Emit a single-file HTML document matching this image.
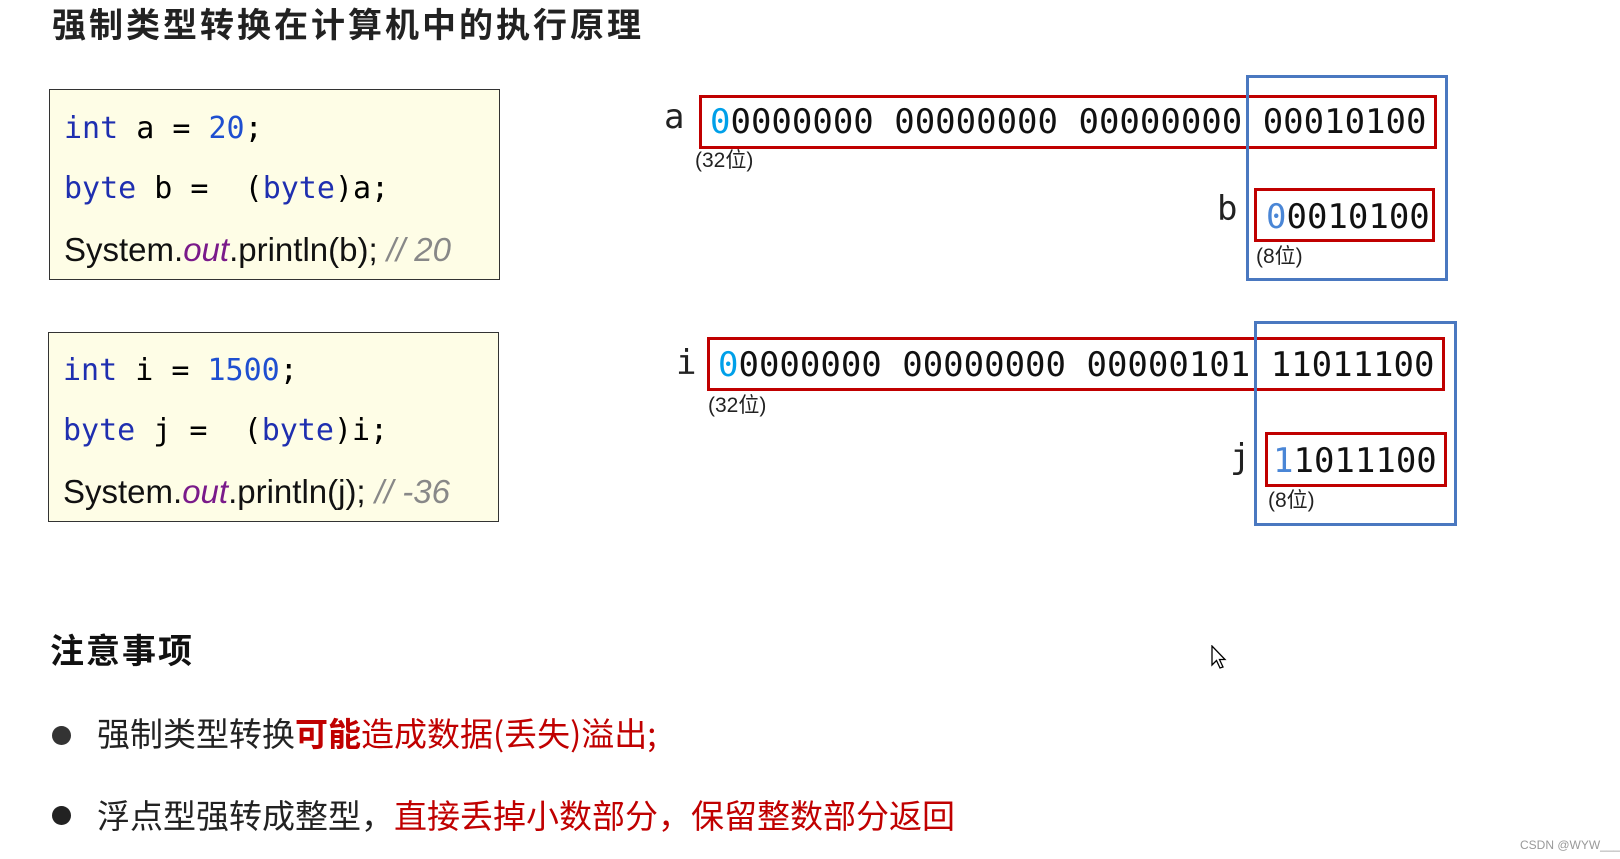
<!DOCTYPE html>
<html><head><meta charset="utf-8"><style>
body{margin:0;width:1620px;height:859px;background:#fff;position:relative;overflow:hidden;font-family:"Liberation Sans","Noto Sans CJK SC",sans-serif;}
.a{position:absolute;white-space:pre;line-height:1;}
.box{position:absolute;box-sizing:border-box;}
.code{position:absolute;background:#fefde6;border:1.5px solid #333;box-sizing:border-box;}
.mono{font-family:"DejaVu Sans Mono","Liberation Mono",monospace;}
.kw{color:#1f2fb0}.num{color:#1f4fd0}
.sys{font-family:"Liberation Sans Narrow","Liberation Sans",sans-serif;font-size:33px;color:#111;}
.bin{font-family:"DejaVu Sans Mono","Liberation Mono",monospace;font-size:34px;color:#111;}
.small{font-family:"Liberation Sans Narrow","Liberation Sans","Noto Sans CJK SC",sans-serif;font-size:21px;color:#222;}
.red{border:3px solid #c00000}
.blue{border:3px solid #4a78c0}
</style></head><body>
<div class="a" style="left:52px;top:6px;font-size:34px;font-weight:bold;letter-spacing:3px;color:#222;font-family:'Noto Sans CJK SC',sans-serif;">强制类型转换在计算机中的执行原理</div>

<div class="code" style="left:49px;top:89px;width:451px;height:191px;"></div>
<div class="a mono" style="left:64px;top:114px;font-size:30px;"><span class="kw">int</span> a = <span class="num">20</span>;</div>
<div class="a mono" style="left:64px;top:174px;font-size:30px;"><span class="kw">byte</span> b =  (<span class="kw">byte</span>)a;</div>
<div class="a sys" style="left:64px;top:233px;">System.<i style="color:#7a1a8a">out</i>.println(b); <i style="color:#888">// 20</i></div>

<div class="code" style="left:48px;top:332px;width:451px;height:190px;"></div>
<div class="a mono" style="left:63px;top:356px;font-size:30px;"><span class="kw">int</span> i = <span class="num">1500</span>;</div>
<div class="a mono" style="left:63px;top:416px;font-size:30px;"><span class="kw">byte</span> j =  (<span class="kw">byte</span>)i;</div>
<div class="a sys" style="left:63px;top:475px;">System.<i style="color:#7a1a8a">out</i>.println(j); <i style="color:#888">// -36</i></div>

<!-- a -->
<div class="a mono" style="left:664px;top:100px;font-size:34px;color:#222;">a</div>
<div class="box red" style="left:699px;top:95px;width:738px;height:54px;"></div>
<div class="box blue" style="left:1246px;top:75px;width:202px;height:206px;"></div>
<div class="a bin" style="left:710px;top:105px;"><span style="color:#00a0e9">0</span>0000000 00000000 00000000 00010100</div>
<div class="a small" style="left:695px;top:150px;">(32位)</div>
<div class="a mono" style="left:1217px;top:192px;font-size:34px;color:#222;">b</div>
<div class="box red" style="left:1254px;top:188px;width:181px;height:54px;"></div>
<div class="a bin" style="left:1266px;top:200px;"><span style="color:#4a86d6">0</span>0010100</div>
<div class="a small" style="left:1256px;top:246px;">(8位)</div>

<!-- i -->
<div class="a mono" style="left:676px;top:346px;font-size:34px;color:#222;">i</div>
<div class="box red" style="left:707px;top:337px;width:738px;height:54px;"></div>
<div class="box blue" style="left:1254px;top:321px;width:203px;height:205px;"></div>
<div class="a bin" style="left:718px;top:348px;"><span style="color:#00a0e9">0</span>0000000 00000000 00000101 11011100</div>
<div class="a small" style="left:708px;top:395px;">(32位)</div>
<div class="a mono" style="left:1230px;top:440px;font-size:34px;color:#222;">j</div>
<div class="box red" style="left:1265px;top:432px;width:182px;height:55px;"></div>
<div class="a bin" style="left:1273px;top:444px;"><span style="color:#4a86d6">1</span>1011100</div>
<div class="a small" style="left:1268px;top:490px;">(8位)</div>

<div class="a" style="left:50px;top:632px;font-size:34px;font-weight:bold;letter-spacing:2px;color:#111;font-family:'Noto Sans CJK SC',sans-serif;">注意事项</div>

<div style="position:absolute;left:52px;top:726px;width:19px;height:19px;border-radius:50%;background:#333;"></div>
<div class="a" style="left:97px;top:716px;font-size:33px;color:#222;font-family:'Noto Sans CJK SC',sans-serif;">强制类型转换<b style="color:#c00000">可能</b><span style="color:#c00000">造成数据(丢失)溢出;</span></div>
<div style="position:absolute;left:52px;top:806px;width:19px;height:19px;border-radius:50%;background:#222;"></div>
<div class="a" style="left:97px;top:798px;font-size:33px;color:#222;font-family:'Noto Sans CJK SC',sans-serif;">浮点型强转成整型，<span style="color:#c00000">直接丢掉小数部分，保留整数部分返回</span></div>

<svg style="position:absolute;left:1211px;top:645px" width="18" height="26" viewBox="0 0 18 26"><path d="M1 1 L1 20 L5.5 15.5 L9 23 L12 22 L8.5 14.5 L14 14.5 Z" fill="#fff" stroke="#000" stroke-width="1.3"/></svg>
<div class="a" style="left:1520px;top:839px;font-size:12px;color:#999;">CSDN @WYW___</div>
</body></html>
